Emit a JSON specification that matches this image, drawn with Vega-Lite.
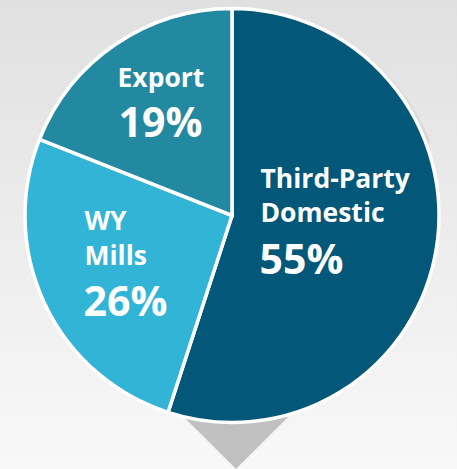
{
  "$schema": "https://vega.github.io/schema/vega-lite/v6.json",
  "width": 457,
  "height": 469,
  "padding": 0,
  "autosize": {"type": "none"},
  "background": "#f7f7f7",
  "view": {
    "stroke": null,
    "fill": {"gradient": "linear", "x1": 0, "y1": 0, "x2": 0, "y2": 1,
      "stops": [{"offset": 0, "color": "#e0e0e0"}, {"offset": 1, "color": "#f8f8f8"}]}
  },
  "data": {"values": [
    {"segment": "Third-Party Domestic", "label": "Third-Party\nDomestic", "share": 55, "pct": "55%"},
    {"segment": "WY Mills", "label": "WY\nMills", "share": 26, "pct": "26%"},
    {"segment": "Export", "label": "Export", "share": 19, "pct": "19%"}
  ]},
  "layer": [
    {
      "transform": [{"filter": "datum.segment === 'Export'"}],
      "mark": {"type": "point", "shape": "M-1.4,-1.4L1.4,-1.4L0,0Z", "size": 8836, "filled": true, "color": "#c0c0c0", "opacity": 1, "strokeWidth": 0, "xOffset": 7.5, "yOffset": 234.5},
      "encoding": {}
    },
    {
      "transform": [{"filter": "datum.segment === 'Export'"}],
      "mark": {"type": "arc", "radius": 212, "fill": "#000000", "opacity": 0.04, "xOffset": 5.5, "yOffset": -14},
      "encoding": {"theta": {"field": "share", "type": "quantitative"}}
    },
    {
      "transform": [{"filter": "datum.segment === 'Export'"}],
      "mark": {"type": "arc", "radius": 210, "fill": "#000000", "opacity": 0.07, "xOffset": 5, "yOffset": -15},
      "encoding": {"theta": {"field": "share", "type": "quantitative"}}
    },
    {
      "transform": [{"filter": "datum.segment === 'Export'"}],
      "mark": {"type": "arc", "radius": 208, "fill": "#000000", "opacity": 0.12, "xOffset": 4.5, "yOffset": -16},
      "encoding": {"theta": {"field": "share", "type": "quantitative"}}
    },
    {
      "mark": {"type": "arc", "radius": 207, "stroke": "#ffffff", "strokeWidth": 3.5, "xOffset": 3.5, "yOffset": -19},
      "encoding": {
        "theta": {"field": "share", "type": "quantitative"},
        "order": {"field": "share", "type": "quantitative", "sort": "descending"},
        "color": {"field": "segment", "type": "nominal",
          "scale": {"domain": ["Third-Party Domestic", "WY Mills", "Export"], "range": ["#03587a", "#31b4d5", "#2389a1"]},
          "legend": null}
      }
    },
    {
      "transform": [{"filter": "datum.segment === 'Third-Party Domestic'"}],
      "mark": {"type": "text", "font": "Open Sans", "fontWeight": "bold", "fontSize": 26.5, "fill": "#ffffff", "align": "left", "baseline": "alphabetic", "lineBreak": "\n", "lineHeight": 34, "dx": 32, "dy": -46.5},
      "encoding": {"text": {"field": "label"}}
    },
    {
      "transform": [{"filter": "datum.segment === 'Third-Party Domestic'"}],
      "mark": {"type": "text", "font": "Open Sans", "fontWeight": "bold", "fontSize": 41, "fill": "#ffffff", "align": "left", "baseline": "alphabetic", "dx": 31, "dy": 39.5},
      "encoding": {"text": {"field": "pct"}}
    },
    {
      "transform": [{"filter": "datum.segment === 'WY Mills'"}],
      "mark": {"type": "text", "font": "Open Sans", "fontWeight": "bold", "fontSize": 26.5, "fill": "#ffffff", "align": "left", "baseline": "alphabetic", "lineBreak": "\n", "lineHeight": 35, "dx": -144, "dy": -4.5},
      "encoding": {"text": {"field": "label"}}
    },
    {
      "transform": [{"filter": "datum.segment === 'WY Mills'"}],
      "mark": {"type": "text", "font": "Open Sans", "fontWeight": "bold", "fontSize": 41, "fill": "#ffffff", "align": "left", "baseline": "alphabetic", "dx": -145, "dy": 81.5},
      "encoding": {"text": {"field": "pct"}}
    },
    {
      "transform": [{"filter": "datum.segment === 'Export'"}],
      "mark": {"type": "text", "font": "Open Sans", "fontWeight": "bold", "fontSize": 26.5, "fill": "#ffffff", "align": "left", "baseline": "alphabetic", "dx": -111, "dy": -147.5},
      "encoding": {"text": {"field": "label"}}
    },
    {
      "transform": [{"filter": "datum.segment === 'Export'"}],
      "mark": {"type": "text", "font": "Open Sans", "fontWeight": "bold", "fontSize": 41, "fill": "#ffffff", "align": "left", "baseline": "alphabetic", "dx": -110, "dy": -97.5},
      "encoding": {"text": {"field": "pct"}}
    }
  ]
}
